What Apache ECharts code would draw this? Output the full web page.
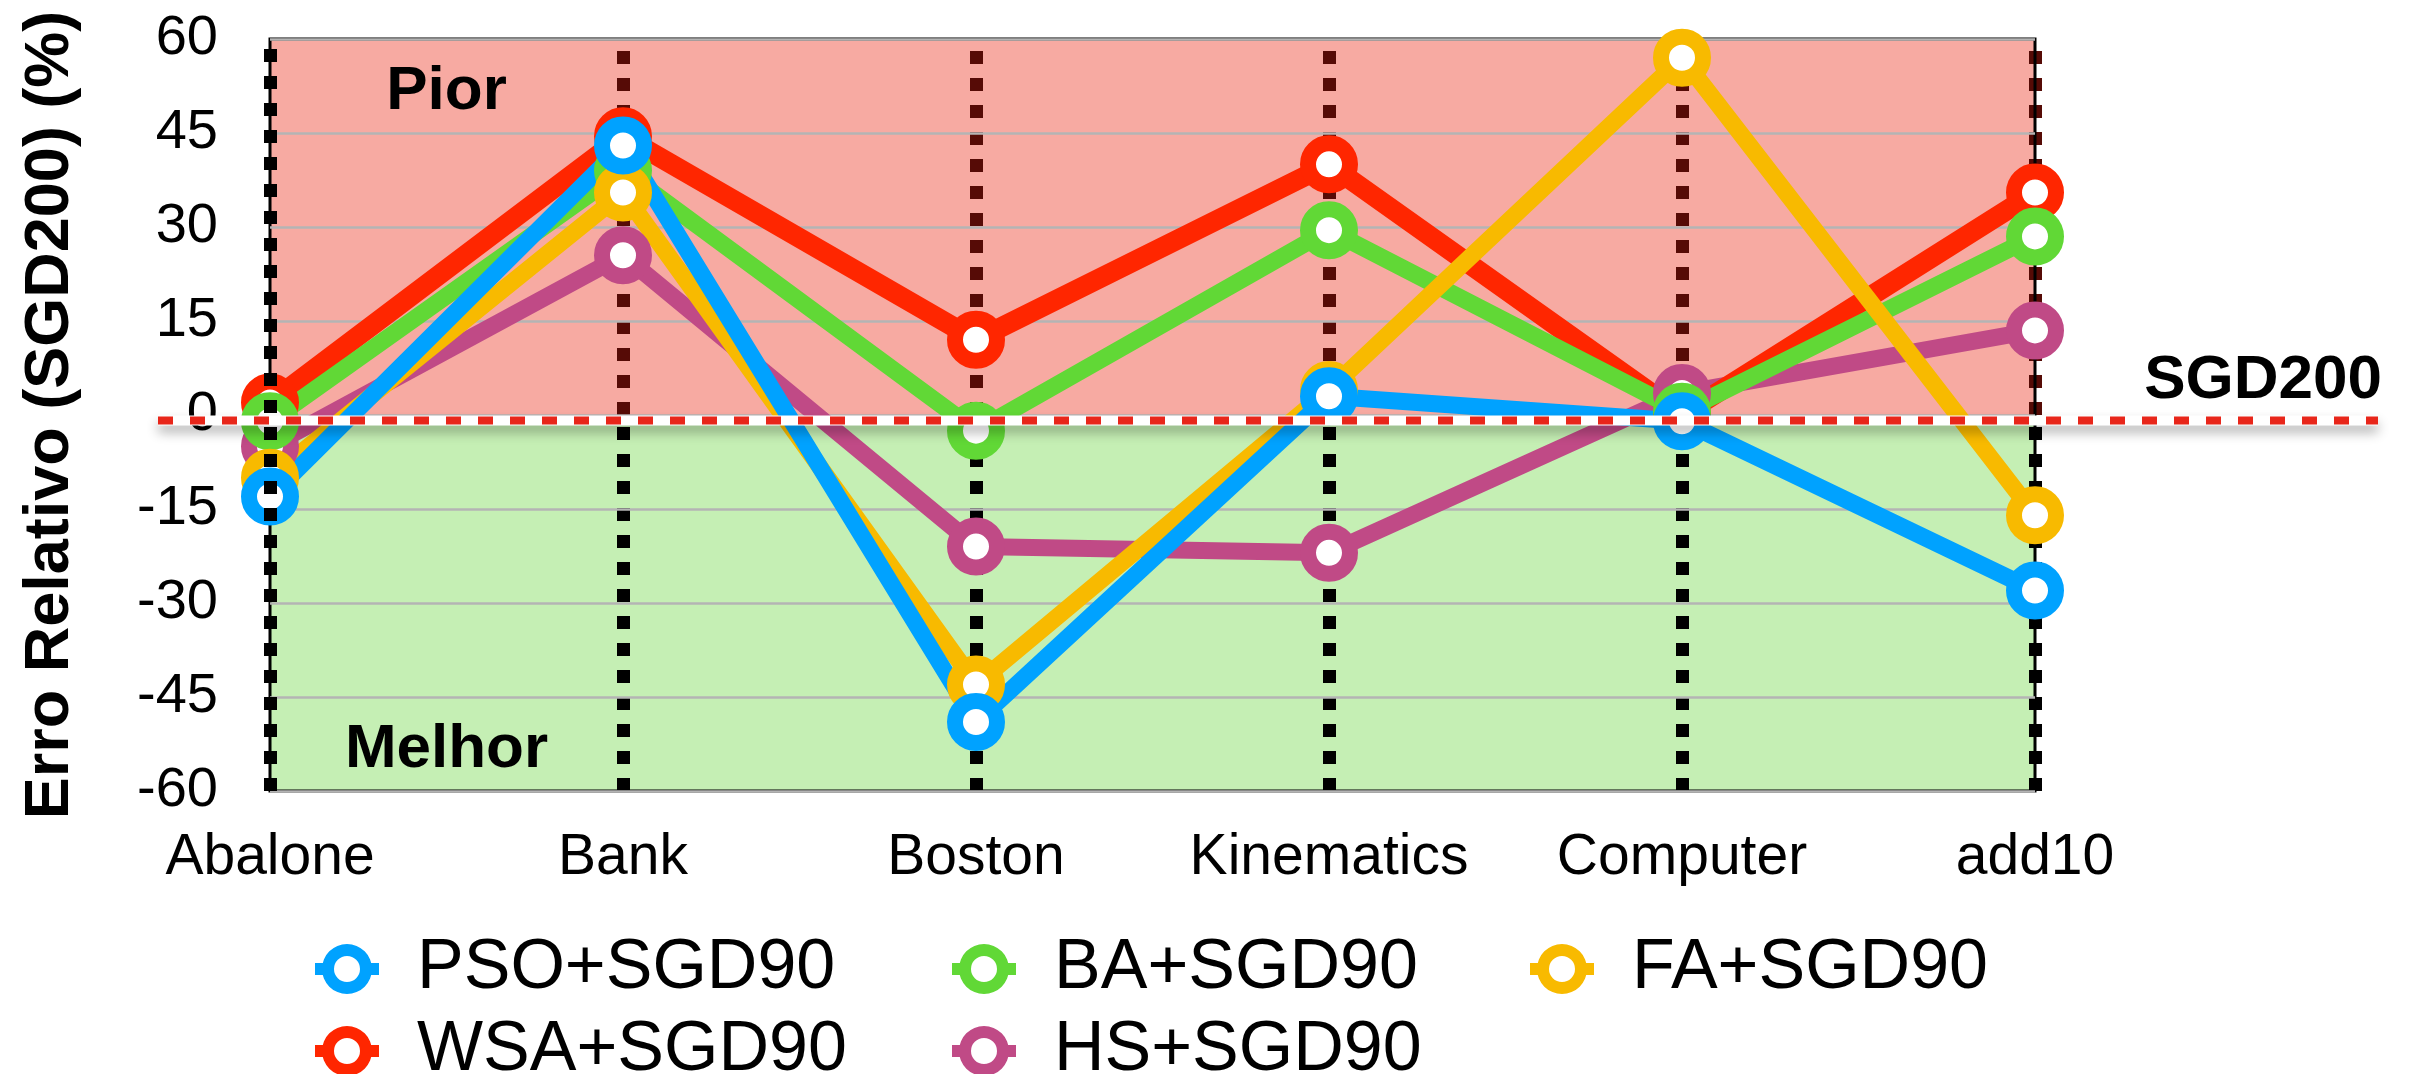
<!DOCTYPE html>
<html><head><meta charset="utf-8">
<script src="https://cdn.jsdelivr.net/npm/echarts/dist/echarts.min.js"></script>
<style>html,body{margin:0;padding:0;background:#fff}#c{width:2415px;height:1074px}</style>
</head><body><div id="c"></div>
<script>
// ---- data ----
const categories = ['Abalone', 'Bank', 'Boston', 'Kinematics', 'Computer', 'add10'];
const yMin = -60, yMax = 60, yStep = 15;
const psoValues = [-13, 43, -49, 3, -1, -28];
const wsaValues = [2, 44.5, 12, 40, 0, 35.5];
const baValues  = [-1, 39, -2.5, 29.5, 0.5, 28.5];
const hsValues  = [-5, 25.5, -21, -22, 3.5, 13.5];
const faValues  = [-10, 35.5, -43, 4, 57, -16];
// legend cells: [name, column, row]
const legendCells = [
  ['PSO+SGD90', 0, 0], ['BA+SGD90', 1, 0], ['FA+SGD90', 2, 0],
  ['WSA+SGD90', 0, 1], ['HS+SGD90', 1, 1]
];
const annotPior = 'Pior', annotMelhor = 'Melhor', annotRef = 'SGD200';
const yAxisTitle = 'Erro Relativo (SGD200) (%)';

// ---- styles ----
const FONT = '"Liberation Sans", Arial, Helvetica, sans-serif';
const colors = {
  'PSO+SGD90': '#00A2FF',
  'WSA+SGD90': '#FF2600',
  'BA+SGD90': '#61D836',
  'HS+SGD90': '#C04A86',
  'FA+SGD90': '#F8BA00'
};
const valuesByName = {
  'PSO+SGD90': psoValues, 'WSA+SGD90': wsaValues, 'BA+SGD90': baValues,
  'HS+SGD90': hsValues, 'FA+SGD90': faValues
};
const drawOrder = ['HS+SGD90', 'WSA+SGD90', 'BA+SGD90', 'FA+SGD90', 'PSO+SGD90'];
const legendColLeft = [310, 947, 1525];
const legendRowTop = [929, 1011];
const legendIconPath = 'path://M7,25 A25,25 0 1,1 57,25 A25,25 0 1,1 7,25 Z M19,25 A13,13 0 1,0 45,25 A13,13 0 1,0 19,25 Z M0,19 L9,19 L9,31 L0,31 Z M55,19 L64,19 L64,31 L55,31 Z';

const chart = echarts.init(document.getElementById('c'), null, {renderer: 'canvas'});

const lineSeries = drawOrder.map(n => ({
  name: n, type: 'line', data: valuesByName[n],
  symbol: 'circle', symbolSize: 42,
  lineStyle: {color: colors[n], width: n === 'WSA+SGD90' ? 20 : 17},
  itemStyle: {color: '#fff', borderColor: colors[n], borderWidth: 16},
  emphasis: {disabled: true}, z: 3
}));

const upperDots = categories.slice(1).map(c => [{coord: [c, 0]}, {coord: [c, yMax]}]);
const lowerDots = categories.slice(1).map(c => [{coord: [c, yMin]}, {coord: [c, 0]}]);

const bgSeries = {
  type: 'line', data: [], z: -2, silent: true,
  markArea: {
    silent: true, z: -3,
    data: [
      [{yAxis: 0, itemStyle: {color: '#F7AAA2'}}, {yAxis: yMax}],
      [{yAxis: yMin, itemStyle: {color: '#C5EFB4'}}, {yAxis: 0}]
    ]
  },
  markLine: {
    silent: true, z: -1, symbol: 'none', label: {show: false}, animation: false,
    data: [
      ...upperDots.map(d => [Object.assign({lineStyle: {color: '#560B06', width: 13, type: [13, 14]}}, d[0]), d[1]]),
      ...lowerDots.map(d => [Object.assign({lineStyle: {color: '#000', width: 13, type: [13, 14]}}, d[0]), d[1]])
    ]
  }
};
const frontDots = {
  type: 'line', data: [], z: 10, silent: true,
  markLine: {
    silent: true, z: 10, symbol: 'none', label: {show: false},
    lineStyle: {color: '#000', width: 13, type: [13, 14]},
    data: [[{coord: [categories[0], yMin]}, {coord: [categories[0], yMax]}]]
  }
};

const legends = legendCells.map(([n, col, row]) => ({
  left: legendColLeft[col], top: legendRowTop[row],
  orient: 'horizontal', itemWidth: 64, itemHeight: 50,
  selectedMode: false,
  textStyle: {fontSize: 70, color: '#000', fontFamily: FONT, padding: [0, 0, 0, 33]},
  data: [{name: n, icon: legendIconPath, itemStyle: {color: colors[n], borderWidth: 0}}]
}));

chart.setOption({
  animation: false,
  backgroundColor: '#fff',
  grid: {left: 270, right: 380, top: 39, bottom: 283, show: true, borderColor: '#000', borderWidth: 3, backgroundColor: 'transparent'},
  xAxis: {
    type: 'category', data: categories, boundaryGap: false,
    axisLine: {show: false}, axisTick: {show: false},
    axisLabel: {fontSize: 57, color: '#000', fontFamily: FONT, margin: 39, interval: 0},
    splitLine: {show: false}
  },
  yAxis: {
    type: 'value', min: yMin, max: yMax, interval: yStep,
    axisLine: {show: false}, axisTick: {show: false},
    axisLabel: {fontSize: 56, color: '#000', fontFamily: FONT, margin: 52},
    splitLine: {show: true, lineStyle: {color: '#B4B4B4', width: 2.5}},
    name: yAxisTitle, nameLocation: 'middle', nameRotate: 90, nameGap: 188,
    nameTextStyle: {fontSize: 63, fontWeight: 'bold', color: '#000', fontFamily: FONT}
  },
  legend: legends,
  series: [bgSeries, ...lineSeries, frontDots]
});

// annotations placed through the axes' own scales
const pA = chart.convertToPixel({gridIndex: 0}, [categories[0], 0]);
const pB = chart.convertToPixel({gridIndex: 0}, [categories[1], 0]);
const yPior = chart.convertToPixel({yAxisIndex: 0}, 51.5);
const yMel = chart.convertToPixel({yAxisIndex: 0}, -53.4);
const yRef = chart.convertToPixel({yAxisIndex: 0}, 5.5);
const y0 = pA[1];
const midX = (pA[0] + pB[0]) / 2;
const refLeft = 158, refRight = 2378;
const bold = {fontSize: 62, fontWeight: 'bold', fill: '#000', fontFamily: FONT};
chart.setOption({
  graphic: [
    {type: 'line', z: 5, silent: true, shape: {x1: refLeft, y1: y0 + 5.5, x2: refRight, y2: y0 + 5.5},
     style: {stroke: '#fff', lineWidth: 10, shadowBlur: 12, shadowColor: 'rgba(0,0,0,0.3)', shadowOffsetY: 7}},
    {type: 'line', z: 6, silent: true, shape: {x1: refLeft, y1: y0 + 5.5, x2: refRight, y2: y0 + 5.5},
     style: {stroke: '#E8261A', lineWidth: 8, lineDash: [15, 17]}},
    {type: 'text', z: 7, silent: true, x: midX, y: yPior, style: Object.assign({text: annotPior, align: 'center', verticalAlign: 'middle'}, bold)},
    {type: 'text', z: 7, silent: true, x: midX, y: yMel, style: Object.assign({text: annotMelhor, align: 'center', verticalAlign: 'middle'}, bold)},
    {type: 'text', z: 7, silent: true, x: refRight + 4, y: yRef, style: Object.assign({text: annotRef, align: 'right', verticalAlign: 'middle'}, bold)}
  ]
});
</script></body></html>
